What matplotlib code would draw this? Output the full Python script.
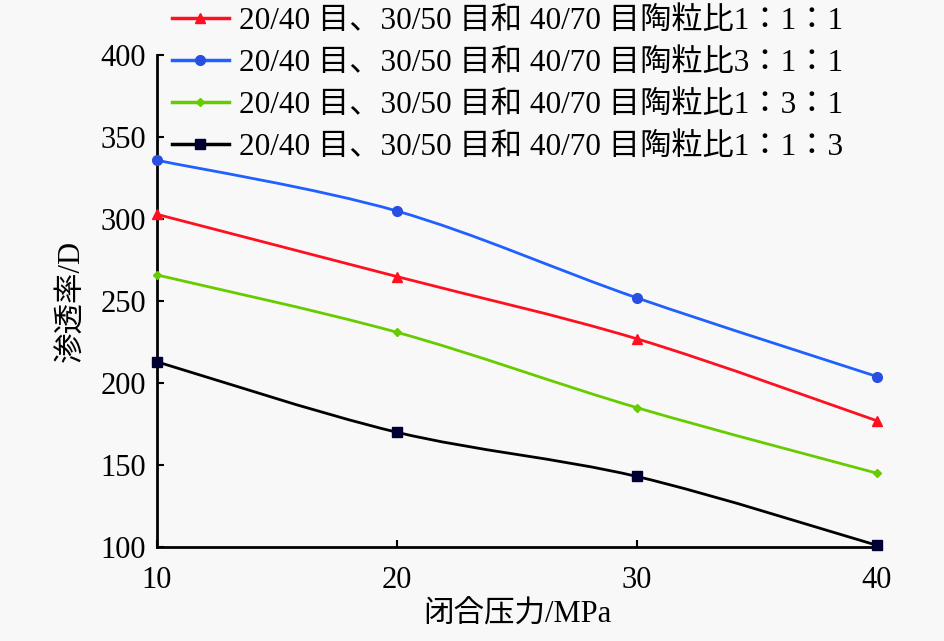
import numpy as np
import matplotlib
matplotlib.use("Agg")
import matplotlib.pyplot as plt
from matplotlib.path import Path
from matplotlib.patches import PathPatch
from matplotlib.lines import Line2D

plt.rcParams["font.family"] = ["Liberation Serif", "Noto Sans CJK JP"]

pressure = [10, 20, 30, 40]
ratio_111 = [303, 265, 227, 177]
ratio_311 = [336, 305, 252, 204]
ratio_131 = [266, 231, 185, 145]
ratio_113 = [213, 170, 143, 101]

labels = [
    "20/40 目、30/50 目和 40/70 目陶粒比1：1：1",
    "20/40 目、30/50 目和 40/70 目陶粒比3：1：1",
    "20/40 目、30/50 目和 40/70 目陶粒比1：3：1",
    "20/40 目、30/50 目和 40/70 目陶粒比1：1：3",
]
series = [ratio_111, ratio_311, ratio_131, ratio_113]
line_colors = ["#ff1020", "#2060ff", "#66cc00", "#000000"]
marker_colors = ["#ff1020", "#2a4fe0", "#66cc00", "#000033"]
markers = ["^", "o", "D", "s"]
msizes = [7, 7, 4.5, 7]


def smooth_path(xs, ys, tension=1 / 6):
    # Catmull-Rom style bezier through the points (like Excel smoothed lines)
    xs = np.asarray(xs, float)
    ys = np.asarray(ys, float)
    px = np.concatenate([[xs[0]], xs, [xs[-1]]])
    py = np.concatenate([[ys[0]], ys, [ys[-1]]])
    verts = [(xs[0], ys[0])]
    codes = [Path.MOVETO]
    for i in range(1, len(px) - 2):
        c1 = (px[i] + (px[i + 1] - px[i - 1]) * tension, py[i] + (py[i + 1] - py[i - 1]) * tension)
        c2 = (px[i + 1] - (px[i + 2] - px[i]) * tension, py[i + 1] - (py[i + 2] - py[i]) * tension)
        verts += [c1, c2, (px[i + 1], py[i + 1])]
        codes += [Path.CURVE4] * 3
    return Path(verts, codes)


fig = plt.figure(figsize=(9.45, 6.41), dpi=100, facecolor="#f8f8f8")
ax = fig.add_axes([0.166, 0.1467, 0.762, 0.767])
ax.set_facecolor("#f8f8f8")

handles = []
for ys, lc, mc, mk, ms, lab in zip(series, line_colors, marker_colors, markers, msizes, labels):
    ax.add_patch(PathPatch(smooth_path(pressure, ys), facecolor="none", edgecolor=lc, lw=2, zorder=2))
    ax.plot(pressure, ys, ls="none", marker=mk, ms=ms, color=mc, zorder=3, clip_on=False)
    handles.append(Line2D([], [], color=lc, lw=2.5, marker=mk, ms=ms, markerfacecolor=mc, markeredgecolor=mc, label=lab))

ax.set_xlim(10, 40)
ax.set_ylim(100, 400)
ax.set_xticks(pressure)
ax.set_yticks(range(100, 401, 50))
for s in ["top", "right"]:
    ax.spines[s].set_visible(False)
for s in ["left", "bottom"]:
    ax.spines[s].set_linewidth(2)
ax.tick_params(direction="in", length=5, width=1.5, labelsize=22)
ax.tick_params(axis="y", pad=8)
ax.tick_params(axis="x", pad=14)
ax.set_xlabel("闭合压力/MPa", fontsize=22, labelpad=4)
ax.set_ylabel("渗透率/D", fontsize=22, labelpad=10)

fig.legend(handles=handles, loc="upper left", bbox_to_anchor=(0.179, 0.994), frameon=False,
           fontsize=22.5, handlelength=1.8, handletextpad=0.35, labelspacing=0.42,
           borderpad=0.1, borderaxespad=0)

fig.savefig("out.png", dpi=100, facecolor=fig.get_facecolor())
